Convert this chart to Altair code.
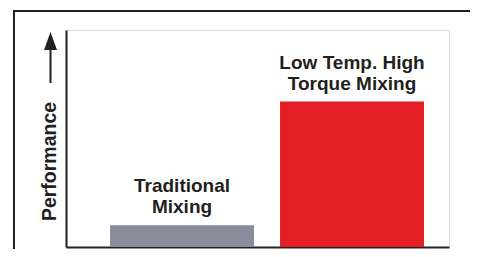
import altair as alt
import pandas as pd

categories = ["Traditional Mixing", "Low Temp. High Torque Mixing"]
values = [10, 67]
labels = ["Traditional\nMixing", "Low Temp. High\nTorque Mixing"]
colors = ["#878d9a", "#e31e25"]
y_title = "Performance"

df = pd.DataFrame({"cat": categories, "val": values, "label": labels, "color": colors})

W, H = 383, 217
FONT = "Liberation Sans"
INK = "#231f20"

x = alt.X("cat:N", sort=categories,
          scale=alt.Scale(paddingInner=0.153, paddingOuter=0.203, align=0.638),
          axis=alt.Axis(labels=False, ticks=False, title=None, domainColor=INK, domainWidth=2))
y = alt.Y("val:Q", scale=alt.Scale(domain=[0, 100], nice=False),
          axis=alt.Axis(labels=False, ticks=False, grid=False, domainColor=INK, domainWidth=2,
                        title=y_title, titleFont=FONT, titleFontSize=19.5, titleFontWeight="bold",
                        titleColor=INK, titleAngle=270, titleX=-11, titleY=131,
                        titleAlign="center", titleBaseline="alphabetic"))

bars = alt.Chart(df).mark_bar().encode(x=x, y=y, color=alt.Color("color:N", scale=None))

text = alt.Chart(df).mark_text(font=FONT, fontSize=19, fontWeight="bold", color=INK,
                               baseline="alphabetic", lineBreak="\n", lineHeight=21, dy=-33).encode(
    x=alt.X("cat:N", sort=categories), y="val:Q", text="label:N")

one = alt.Data(values=[{}])
frame_left = alt.Chart(one).mark_rule(color=INK, strokeWidth=2).encode(
    x=alt.value(-52), y=alt.value(-19), y2=alt.value(H + 2))
frame_top = alt.Chart(one).mark_rule(color=INK, strokeWidth=2).encode(
    x=alt.value(-53), x2=alt.value(W + 29), y=alt.value(-19))
shaft = alt.Chart(one).mark_rule(color=INK, strokeWidth=2).encode(
    x=alt.value(-15.5), y=alt.value(14), y2=alt.value(53))
head = alt.Chart(one).mark_point(shape="M0,-1L0.72,1L-0.72,1Z", filled=True, color=INK,
                                 size=324, opacity=1).encode(
    x=alt.value(-15.5), y=alt.value(11))

chart = alt.layer(frame_left, frame_top, bars, text, shaft, head).properties(
    width=W, height=H,
    autosize=alt.AutoSizeParams(type="none"),
    padding={"left": 58, "top": 22, "right": 21, "bottom": 2},
).configure_view(stroke=None).configure(background="white")

chart.save("out.html", embed_options={"renderer": "svg", "actions": False})
